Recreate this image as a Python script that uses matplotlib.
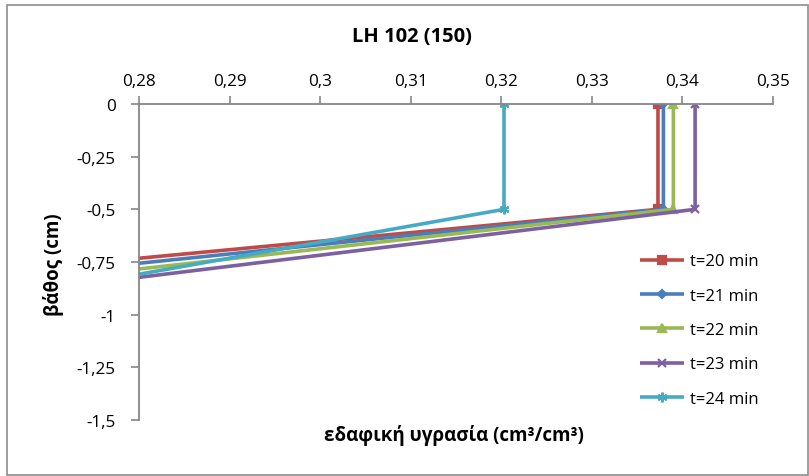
import matplotlib
matplotlib.use("Agg")
import matplotlib.pyplot as plt
from matplotlib.patches import Rectangle
from matplotlib.ticker import FuncFormatter

plt.rcParams['font.family'] = ['Open Sans', 'DejaVu Sans']

# Soil moisture profiles (x: moisture, y: depth)
depth = [0.0, -0.5, -1.0]
series_labels = ["t=20 min", "t=21 min", "t=22 min", "t=23 min", "t=24 min"]
moisture_t20 = [0.3373, 0.3373, 0.2139]
moisture_t21 = [0.3379, 0.3379, 0.2248]
moisture_t22 = [0.3390, 0.3390, 0.2348]
moisture_t23 = [0.3414, 0.3414, 0.2463]
moisture_t24 = [0.3203, 0.3203, 0.2549]

x_ticks = [0.28, 0.29, 0.30, 0.31, 0.32, 0.33, 0.34, 0.35]
y_ticks = [0.0, -0.25, -0.5, -0.75, -1.0, -1.25, -1.5]

title = "LH 102 (150)"
x_label = "εδαφική υγρασία (cm³/cm³)"
y_label = "βάθος (cm)"

colors = ["#BE4B48", "#4A7EBB", "#98B954", "#7D60A0", "#46AAC5"]
markers = ["s", "D", "^", "x", (6, 2, 0)]
msizes = [6, 4, 6, 6, 7]

W, H = 809, 477
fig = plt.figure(figsize=(W / 100, H / 100), dpi=100)
fig.patch.set_facecolor("white")

ax = fig.add_axes([139 / W, 1 - 421 / H, (773 - 139) / W, (421 - 105) / H])

all_series = [moisture_t20, moisture_t21, moisture_t22, moisture_t23, moisture_t24]
for xs, lab, c, m, ms in zip(all_series, series_labels, colors, markers, msizes):
    ax.plot(xs, depth, color=c, lw=2.6, marker=m, ms=ms, mew=1.6,
            mfc=c, mec=c, label=lab, solid_capstyle="butt")

ax.set_xlim(x_ticks[0], x_ticks[-1])
ax.set_ylim(y_ticks[-1], y_ticks[0])
ax.set_xticks(x_ticks)
ax.set_yticks(y_ticks)

fmt = FuncFormatter(lambda v, p: ("%g" % round(v, 4)).replace(".", ","))
ax.xaxis.set_major_formatter(fmt)
ax.yaxis.set_major_formatter(fmt)
ax.xaxis.tick_top()

axis_gray = "#868686"
for s in ["bottom", "right"]:
    ax.spines[s].set_visible(False)
for s in ["top", "left"]:
    ax.spines[s].set_color(axis_gray)
    ax.spines[s].set_linewidth(1.3)

ax.tick_params(axis="x", which="major", direction="out", length=6, width=1.2,
               color=axis_gray, pad=5, labelsize=12.3, labelcolor="black")
ax.tick_params(axis="y", which="major", direction="out", length=6, width=1.2,
               color=axis_gray, pad=11, labelsize=12.3, labelcolor="black")

fig.text(412 / W, 1 - 37 / H, title, ha="center", va="center",
         fontsize=14.5, fontweight="bold")
fig.text(454 / W, 1 - 436 / H, x_label, ha="center", va="center",
         fontsize=13.5, fontweight="bold")
fig.text(53 / W, 1 - 265 / H, y_label, ha="center", va="center",
         fontsize=13.5, fontweight="bold", rotation=90)

leg = ax.legend(loc="center left", bbox_to_anchor=(640 / W, 1 - 331 / H),
                bbox_transform=fig.transFigure, frameon=False, fontsize=12,
                handlelength=2.65, handletextpad=0.36, labelspacing=1.1,
                borderpad=0, borderaxespad=0)

fig.patches.append(Rectangle((7 / W, 1 - 476 / H), (W - 1 - 7) / W, (476 - 6) / H,
                             transform=fig.transFigure, fill=False,
                             edgecolor="#8C8C8C", lw=1.2))

fig.savefig("out.png", dpi=100, facecolor="white")
